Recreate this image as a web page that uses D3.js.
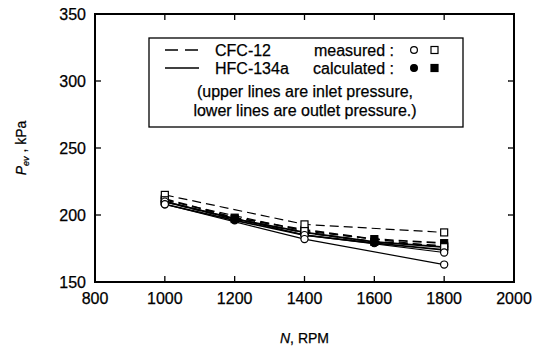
<!DOCTYPE html>
<html>
<head>
<meta charset="utf-8">
<script src="https://cdn.jsdelivr.net/npm/d3@7"></script>
<style>
  body { margin: 0; background: #fff; }
  text { font-family: "Liberation Sans", Arial, sans-serif; fill: #000; stroke: #000; stroke-width: 0.25; }
</style>
</head>
<body>
<script>
// RPM values
const rpmMeasured = [1000, 1400, 1800];
const rpmCalc = [1000, 1200, 1400, 1600, 1800];

// CFC-12 (dashed), HFC-134a (solid); inlet = upper, outlet = lower
const cfcMeasInlet = [215, 193, 187];
const cfcMeasOutlet = [211, 188, 176];
const hfcMeasInlet = [210, 185, 172];
const hfcMeasOutlet = [208, 182, 163];
const cfcCalcInlet = [212, 198, 189, 182, 179];
const cfcCalcOutlet = [210, 197, 187, 180, 177];
const hfcCalcInlet = [210, 197, 187, 180, 176];
const hfcCalcOutlet = [208, 196, 185, 179, 174];

const xTicks = [800, 1000, 1200, 1400, 1600, 1800, 2000];
const yTicks = [150, 200, 250, 300, 350];

const legendLines = ["CFC-12", "HFC-134a"];
const legendKinds = ["measured :", "calculated :"];
const legendNote = ["(upper lines are inlet pressure,", "lower lines are outlet pressure.)"];

const width = 540, height = 356;
const margin = {top: 14, right: 26, bottom: 74, left: 95};

const svg = d3.select('body')
  .append('svg')
  .attr('width', width)
  .attr('height', height);

const x = d3.scaleLinear()
  .domain([800, 2000])
  .range([margin.left, width - margin.right]);
const y = d3.scaleLinear()
  .domain([150, 350])
  .range([height - margin.bottom, margin.top]);

// ticks (inward, all four sides)
const tickLen = 6;
const axes = svg.append('g').attr('stroke', '#000').attr('stroke-width', 1.3);
xTicks.slice(1, -1).forEach(t => {
  axes.append('line').attr('x1', x(t)).attr('x2', x(t))
    .attr('y1', y(150)).attr('y2', y(150) - tickLen);
  axes.append('line').attr('x1', x(t)).attr('x2', x(t))
    .attr('y1', y(350)).attr('y2', y(350) + tickLen);
});
yTicks.slice(1, -1).forEach(t => {
  axes.append('line').attr('x1', x(800)).attr('x2', x(800) + tickLen)
    .attr('y1', y(t)).attr('y2', y(t));
  axes.append('line').attr('x1', x(2000)).attr('x2', x(2000) - tickLen)
    .attr('y1', y(t)).attr('y2', y(t));
});

svg.append('rect')
  .attr('x', x(800)).attr('y', y(350))
  .attr('width', x(2000) - x(800)).attr('height', y(150) - y(350))
  .attr('fill', 'none').attr('stroke', '#000').attr('stroke-width', 2);

svg.append('g').selectAll('text')
  .data(xTicks)
  .join('text')
  .attr('x', d => x(d))
  .attr('y', y(150) + 22)
  .attr('text-anchor', 'middle')
  .attr('font-size', 16)
  .text(d => d);

svg.append('g').selectAll('text')
  .data(yTicks)
  .join('text')
  .attr('x', x(800) - 9)
  .attr('y', d => y(d) + 6)
  .attr('text-anchor', 'end')
  .attr('font-size', 16)
  .text(d => d);

// axis titles
const xt = svg.append('text')
  .attr('x', (x(800) + x(2000)) / 2)
  .attr('y', 343)
  .attr('text-anchor', 'middle')
  .attr('font-size', 14);
xt.append('tspan').attr('font-style', 'italic').text('N');
xt.append('tspan').text(', RPM');

const yt = svg.append('text')
  .attr('transform', `translate(26,148) rotate(-90)`)
  .attr('text-anchor', 'middle')
  .attr('font-size', 14);
yt.append('tspan').attr('font-style', 'italic').text('P');
yt.append('tspan').attr('font-style', 'italic').attr('font-size', 9).attr('dy', 3).text('ev');
yt.append('tspan').attr('dy', -3).text(' , kPa');

// series
const line = d3.line().x(d => x(d[0])).y(d => y(d[1]));
const series = [
  {rpm: rpmCalc, v: cfcCalcInlet, dash: '9,5', marker: 'square', fill: '#000', sw: 1.7},
  {rpm: rpmCalc, v: cfcCalcOutlet, dash: '9,5', marker: 'square', fill: '#000', sw: 1.7},
  {rpm: rpmCalc, v: hfcCalcInlet, dash: null, marker: 'circle', fill: '#000', sw: 1.7},
  {rpm: rpmCalc, v: hfcCalcOutlet, dash: null, marker: 'circle', fill: '#000', sw: 1.7},
  {rpm: rpmMeasured, v: cfcMeasInlet, dash: '9,5', marker: 'square', fill: '#fff', sw: 1.2},
  {rpm: rpmMeasured, v: cfcMeasOutlet, dash: '9,5', marker: 'square', fill: '#fff', sw: 1.2},
  {rpm: rpmMeasured, v: hfcMeasInlet, dash: null, marker: 'circle', fill: '#fff', sw: 1.2},
  {rpm: rpmMeasured, v: hfcMeasOutlet, dash: null, marker: 'circle', fill: '#fff', sw: 1.2}
];

const plot = svg.append('g');
series.forEach(s => {
  const pts = s.rpm.map((r, i) => [r, s.v[i]]);
  plot.append('path')
    .attr('d', line(pts))
    .attr('fill', 'none')
    .attr('stroke', '#000')
    .attr('stroke-width', s.sw)
    .attr('stroke-dasharray', s.dash);
});
series.forEach(s => {
  const pts = s.rpm.map((r, i) => [r, s.v[i]]);
  const g = plot.append('g');
  if (s.marker === 'circle') {
    g.selectAll('circle').data(pts).join('circle')
      .attr('cx', d => x(d[0])).attr('cy', d => y(d[1])).attr('r', 3.6)
      .attr('fill', s.fill).attr('stroke', '#000').attr('stroke-width', 1.2);
  } else {
    g.selectAll('rect').data(pts).join('rect')
      .attr('x', d => x(d[0]) - 3.5).attr('y', d => y(d[1]) - 3.5)
      .attr('width', 7).attr('height', 7)
      .attr('fill', s.fill).attr('stroke', '#000').attr('stroke-width', 1.2);
  }
});

// legend
const lg = svg.append('g');
lg.append('rect')
  .attr('x', 149).attr('y', 38).attr('width', 314).attr('height', 89)
  .attr('fill', '#fff').attr('stroke', '#000').attr('stroke-width', 1.3);
const rowY = [56, 74];
legendLines.forEach((name, i) => {
  lg.append('line')
    .attr('x1', 165).attr('x2', 199)
    .attr('y1', rowY[i] - 6).attr('y2', rowY[i] - 6)
    .attr('stroke', '#000').attr('stroke-width', 1.3)
    .attr('stroke-dasharray', i === 0 ? '13,7' : null);
  lg.append('text').attr('x', 215).attr('y', rowY[i]).attr('font-size', 16).text(name);
  lg.append('text').attr('x', 394).attr('y', rowY[i]).attr('text-anchor', 'end')
    .attr('font-size', 16).text(legendKinds[i]);
  lg.append('circle').attr('cx', 414).attr('cy', rowY[i] - 6).attr('r', 3.4)
    .attr('fill', i === 0 ? '#fff' : '#000').attr('stroke', '#000').attr('stroke-width', 1.2);
  lg.append('rect').attr('x', 431).attr('y', rowY[i] - 9.5).attr('width', 7).attr('height', 7)
    .attr('fill', i === 0 ? '#fff' : '#000').attr('stroke', '#000').attr('stroke-width', 1.2);
});
legendNote.forEach((t, i) => {
  lg.append('text').attr('x', 305).attr('y', 97 + i * 19)
    .attr('text-anchor', 'middle').attr('font-size', 16).text(t);
});
</script>
</body>
</html>
